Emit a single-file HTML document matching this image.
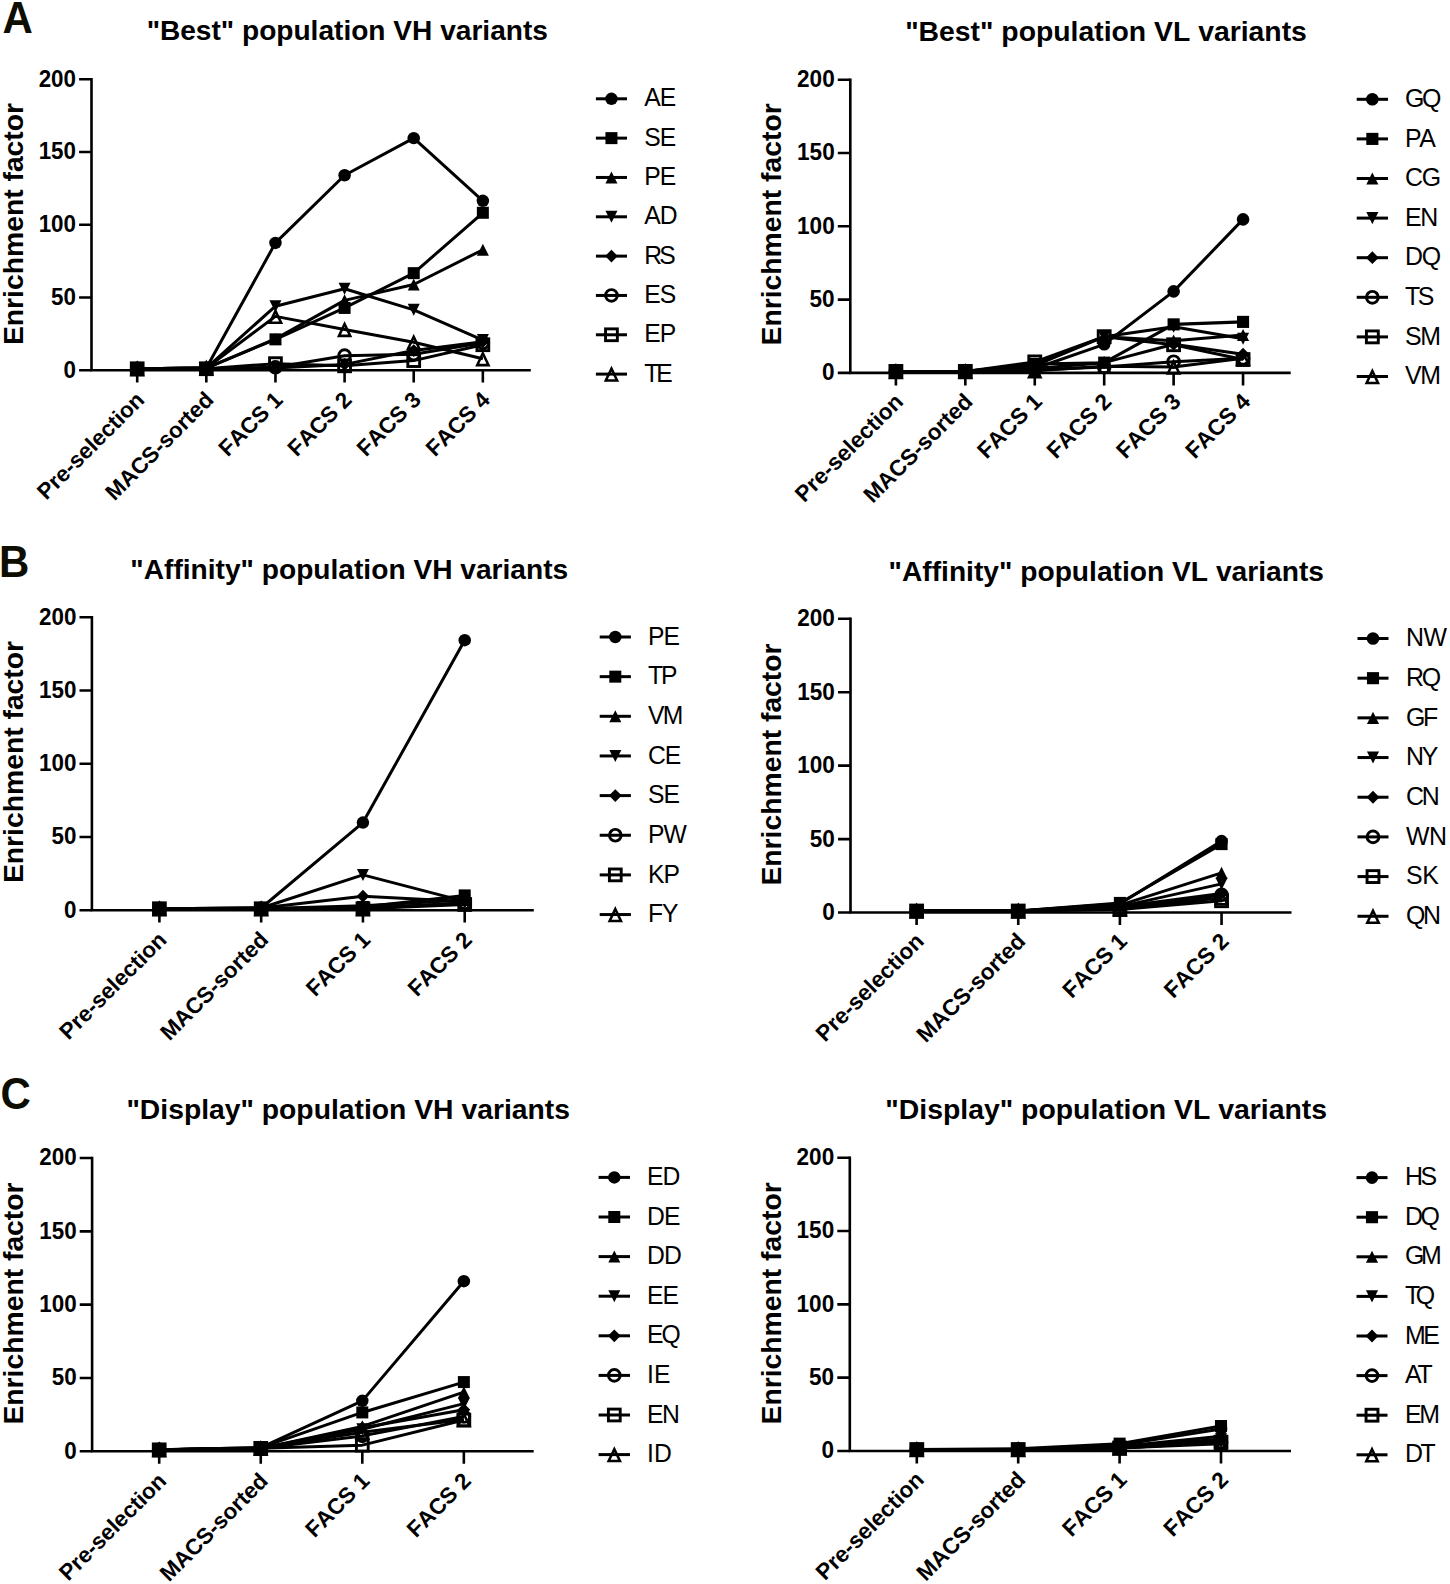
<!DOCTYPE html>
<html lang="en">
<head>
<meta charset="utf-8">
<title>Enrichment factor of VH and VL variants</title>
<style>
html,body{margin:0;padding:0;background:#fff;}
body{width:1450px;height:1584px;overflow:hidden;}
svg{display:block;}
svg text{font-kerning:none;}
</style>
</head>
<body>
<svg width="1450" height="1584" viewBox="0 0 1450 1584" font-family='"Liberation Sans", Arial, Helvetica, sans-serif' fill="#000">
<rect width="1450" height="1584" fill="#fff"/>
<text transform="translate(2.4 32.9) scale(1 1.04)" font-size="42" font-weight="700" fill="#0d0d02">A</text>
<text transform="translate(-1 576.5) scale(1 1.04)" font-size="42" font-weight="700" fill="#0d0d02">B</text>
<text transform="translate(0.6 1109.2) scale(1 1.04)" font-size="42" font-weight="700" fill="#0d0d02">C</text>
<g>
<text x="347.3" y="40.4" text-anchor="middle" font-size="28.1" font-weight="700">&quot;Best&quot; population VH variants</text>
<text transform="translate(23.2 224) rotate(-90)" text-anchor="middle" font-size="28.3" font-weight="700">Enrichment factor</text>
<g stroke="#000" stroke-width="2.6" fill="none">
<path d="M91.5 77.9V370.2H530.8"/>
<path d="M79.1 370.2H91.5M79.1 297.45H91.5M79.1 224.7H91.5M79.1 151.95H91.5M79.1 79.2H91.5M137.2 370.2V382.6M206.33 370.2V382.6M275.46 370.2V382.6M344.59 370.2V382.6M413.72 370.2V382.6M482.85 370.2V382.6"/>
</g>
<g font-size="22.4" font-weight="700" text-anchor="end">
<text transform="translate(76 377.6) scale(1 1.04)">0</text>
<text transform="translate(76 304.85) scale(1 1.04)">50</text>
<text transform="translate(76 232.1) scale(1 1.04)">100</text>
<text transform="translate(76 159.35) scale(1 1.04)">150</text>
<text transform="translate(76 86.6) scale(1 1.04)">200</text>
</g>
<g font-size="22.4" font-weight="700" text-anchor="end">
<text transform="translate(145.7 401.2) rotate(-45)">Pre-selection</text>
<text transform="translate(214.83 401.2) rotate(-45)">MACS-sorted</text>
<text transform="translate(283.96 401.2) rotate(-45)">FACS 1</text>
<text transform="translate(353.09 401.2) rotate(-45)">FACS 2</text>
<text transform="translate(422.22 401.2) rotate(-45)">FACS 3</text>
<text transform="translate(491.35 401.2) rotate(-45)">FACS 4</text>
</g>
<polyline points="137.2,368.75 206.33,368.02 275.46,242.89 344.59,175.23 413.72,138.13 482.85,200.84" fill="none" stroke="#000" stroke-width="3" stroke-linejoin="round"/>
<circle cx="137.2" cy="368.75" r="6.24" fill="#000"/>
<circle cx="206.33" cy="368.02" r="6.24" fill="#000"/>
<circle cx="275.46" cy="242.89" r="6.24" fill="#000"/>
<circle cx="344.59" cy="175.23" r="6.24" fill="#000"/>
<circle cx="413.72" cy="138.13" r="6.24" fill="#000"/>
<circle cx="482.85" cy="200.84" r="6.24" fill="#000"/>
<polyline points="137.2,368.75 206.33,368.02 275.46,339.35 344.59,307.93 413.72,273.15 482.85,212.77" fill="none" stroke="#000" stroke-width="3" stroke-linejoin="round"/>
<rect x="131.2" y="362.75" width="12" height="12" fill="#000"/>
<rect x="200.33" y="362.02" width="12" height="12" fill="#000"/>
<rect x="269.46" y="333.35" width="12" height="12" fill="#000"/>
<rect x="338.59" y="301.93" width="12" height="12" fill="#000"/>
<rect x="407.72" y="267.15" width="12" height="12" fill="#000"/>
<rect x="476.85" y="206.77" width="12" height="12" fill="#000"/>
<polyline points="137.2,368.75 206.33,368.02 275.46,338.92 344.59,300.36 413.72,284.5 482.85,249.73" fill="none" stroke="#000" stroke-width="3" stroke-linejoin="round"/>
<polygon points="137.2,362.75 143.2,374.75 131.2,374.75" fill="#000"/>
<polygon points="206.33,362.02 212.33,374.02 200.33,374.02" fill="#000"/>
<polygon points="275.46,332.92 281.46,344.92 269.46,344.92" fill="#000"/>
<polygon points="344.59,294.36 350.59,306.36 338.59,306.36" fill="#000"/>
<polygon points="413.72,278.5 419.72,290.5 407.72,290.5" fill="#000"/>
<polygon points="482.85,243.73 488.85,255.73 476.85,255.73" fill="#000"/>
<polyline points="137.2,368.75 206.33,368.02 275.46,306.18 344.59,288.72 413.72,309.82 482.85,340.08" fill="none" stroke="#000" stroke-width="3" stroke-linejoin="round"/>
<polygon points="131.2,362.75 143.2,362.75 137.2,374.75" fill="#000"/>
<polygon points="200.33,362.02 212.33,362.02 206.33,374.02" fill="#000"/>
<polygon points="269.46,300.18 281.46,300.18 275.46,312.18" fill="#000"/>
<polygon points="338.59,282.72 350.59,282.72 344.59,294.72" fill="#000"/>
<polygon points="407.72,303.82 419.72,303.82 413.72,315.82" fill="#000"/>
<polygon points="476.85,334.08 488.85,334.08 482.85,346.08" fill="#000"/>
<polyline points="137.2,368.75 206.33,368.75 275.46,368.02 344.59,364.38 413.72,350.56 482.85,341.68" fill="none" stroke="#000" stroke-width="3" stroke-linejoin="round"/>
<polygon points="137.2,362.38 143.56,368.75 137.2,375.11 130.84,368.75" fill="#000"/>
<polygon points="206.33,362.38 212.69,368.75 206.33,375.11 199.97,368.75" fill="#000"/>
<polygon points="275.46,361.66 281.82,368.02 275.46,374.38 269.1,368.02" fill="#000"/>
<polygon points="344.59,358.02 350.95,364.38 344.59,370.74 338.23,364.38" fill="#000"/>
<polygon points="413.72,344.2 420.08,350.56 413.72,356.92 407.36,350.56" fill="#000"/>
<polygon points="482.85,335.32 489.21,341.68 482.85,348.04 476.49,341.68" fill="#000"/>
<polyline points="137.2,368.75 206.33,368.75 275.46,367.29 344.59,355.65 413.72,354.19 482.85,342.85" fill="none" stroke="#000" stroke-width="3" stroke-linejoin="round"/>
<circle cx="137.2" cy="368.75" r="5.85" fill="none" stroke="#000" stroke-width="2.9"/>
<circle cx="206.33" cy="368.75" r="5.85" fill="none" stroke="#000" stroke-width="2.9"/>
<circle cx="275.46" cy="367.29" r="5.85" fill="none" stroke="#000" stroke-width="2.9"/>
<circle cx="344.59" cy="355.65" r="5.85" fill="none" stroke="#000" stroke-width="2.9"/>
<circle cx="413.72" cy="354.19" r="5.85" fill="none" stroke="#000" stroke-width="2.9"/>
<circle cx="482.85" cy="342.85" r="5.85" fill="none" stroke="#000" stroke-width="2.9"/>
<polyline points="137.2,368.75 206.33,368.75 275.46,363.65 344.59,365.83 413.72,360.6 482.85,344.74" fill="none" stroke="#000" stroke-width="3" stroke-linejoin="round"/>
<rect x="131.3" y="362.85" width="11.8" height="11.8" fill="none" stroke="#000" stroke-width="2.9"/>
<rect x="200.43" y="362.85" width="11.8" height="11.8" fill="none" stroke="#000" stroke-width="2.9"/>
<rect x="269.56" y="357.75" width="11.8" height="11.8" fill="none" stroke="#000" stroke-width="2.9"/>
<rect x="338.69" y="359.94" width="11.8" height="11.8" fill="none" stroke="#000" stroke-width="2.9"/>
<rect x="407.82" y="354.7" width="11.8" height="11.8" fill="none" stroke="#000" stroke-width="2.9"/>
<rect x="476.95" y="338.84" width="11.8" height="11.8" fill="none" stroke="#000" stroke-width="2.9"/>
<polyline points="137.2,368.75 206.33,368.02 275.46,316.37 344.59,329.46 413.72,342.26 482.85,358.71" fill="none" stroke="#000" stroke-width="3" stroke-linejoin="round"/>
<polygon points="137.2,363.25 142.85,375.14 131.55,375.14" fill="none" stroke="#000" stroke-width="2.55" stroke-linejoin="miter"/>
<polygon points="206.33,362.52 211.98,374.42 200.68,374.42" fill="none" stroke="#000" stroke-width="2.55" stroke-linejoin="miter"/>
<polygon points="275.46,310.87 281.11,322.76 269.81,322.76" fill="none" stroke="#000" stroke-width="2.55" stroke-linejoin="miter"/>
<polygon points="344.59,323.96 350.24,335.86 338.94,335.86" fill="none" stroke="#000" stroke-width="2.55" stroke-linejoin="miter"/>
<polygon points="413.72,336.76 419.37,348.66 408.07,348.66" fill="none" stroke="#000" stroke-width="2.55" stroke-linejoin="miter"/>
<polygon points="482.85,353.21 488.5,365.11 477.2,365.11" fill="none" stroke="#000" stroke-width="2.55" stroke-linejoin="miter"/>
<g font-size="24.7" letter-spacing="-1">
<path d="M595.9 98.8H627" stroke="#000" stroke-width="3"/>
<circle cx="611.45" cy="98.8" r="6.24" fill="#000"/>
<text transform="translate(644.3 106.4) scale(1 1.04)">AE</text>
<path d="M595.9 138.13H627" stroke="#000" stroke-width="3"/>
<rect x="605.45" y="132.13" width="12" height="12" fill="#000"/>
<text transform="translate(644.3 145.73) scale(1 1.04)">SE</text>
<path d="M595.9 177.46H627" stroke="#000" stroke-width="3"/>
<polygon points="611.45,171.46 617.45,183.46 605.45,183.46" fill="#000"/>
<text transform="translate(644.3 185.06) scale(1 1.04)">PE</text>
<path d="M595.9 216.79H627" stroke="#000" stroke-width="3"/>
<polygon points="605.45,210.79 617.45,210.79 611.45,222.79" fill="#000"/>
<text transform="translate(644.3 224.39) scale(1 1.04)">AD</text>
<path d="M595.9 256.12H627" stroke="#000" stroke-width="3"/>
<polygon points="611.45,249.76 617.81,256.12 611.45,262.48 605.09,256.12" fill="#000"/>
<text transform="translate(644.3 263.72) scale(1 1.04)" letter-spacing="-2.8">RS</text>
<path d="M595.9 295.45H627" stroke="#000" stroke-width="3"/>
<circle cx="611.45" cy="295.45" r="5.85" fill="none" stroke="#000" stroke-width="2.9"/>
<text transform="translate(644.3 303.05) scale(1 1.04)">ES</text>
<path d="M595.9 334.78H627" stroke="#000" stroke-width="3"/>
<rect x="605.55" y="328.88" width="11.8" height="11.8" fill="none" stroke="#000" stroke-width="2.9"/>
<text transform="translate(644.3 342.38) scale(1 1.04)">EP</text>
<path d="M595.9 374.11H627" stroke="#000" stroke-width="3"/>
<polygon points="611.45,368.61 617.1,380.51 605.8,380.51" fill="none" stroke="#000" stroke-width="2.55" stroke-linejoin="miter"/>
<text transform="translate(644.3 381.71) scale(1 1.04)" letter-spacing="-3.2">TE</text>
</g>
</g>
<g>
<text x="1106" y="41" text-anchor="middle" font-size="28.35" font-weight="700">&quot;Best&quot; population VL variants</text>
<text transform="translate(780.8 224.4) rotate(-90)" text-anchor="middle" font-size="28.3" font-weight="700">Enrichment factor</text>
<g stroke="#000" stroke-width="2.62" fill="none">
<path d="M850.3 78.39V372.9H1290.7"/>
<path d="M837.8 372.9H850.3M837.8 299.6H850.3M837.8 226.3H850.3M837.8 153H850.3M837.8 79.7H850.3M895.9 372.9V385.4M965.33 372.9V385.4M1034.76 372.9V385.4M1104.19 372.9V385.4M1173.62 372.9V385.4M1243.05 372.9V385.4"/>
</g>
<g font-size="22.58" font-weight="700" text-anchor="end">
<text transform="translate(834.68 380.36) scale(1 1.04)">0</text>
<text transform="translate(834.68 307.06) scale(1 1.04)">50</text>
<text transform="translate(834.68 233.76) scale(1 1.04)">100</text>
<text transform="translate(834.68 160.46) scale(1 1.04)">150</text>
<text transform="translate(834.68 87.16) scale(1 1.04)">200</text>
</g>
<g font-size="22.58" font-weight="700" text-anchor="end">
<text transform="translate(904.47 402.9) rotate(-45)">Pre-selection</text>
<text transform="translate(973.9 402.9) rotate(-45)">MACS-sorted</text>
<text transform="translate(1043.33 402.9) rotate(-45)">FACS 1</text>
<text transform="translate(1112.76 402.9) rotate(-45)">FACS 2</text>
<text transform="translate(1182.19 402.9) rotate(-45)">FACS 3</text>
<text transform="translate(1251.62 402.9) rotate(-45)">FACS 4</text>
</g>
<polyline points="895.9,371.43 965.33,371.43 1034.76,368.5 1104.19,344.31 1173.62,291.39 1243.05,219.41" fill="none" stroke="#000" stroke-width="3.02" stroke-linejoin="round"/>
<circle cx="895.9" cy="371.43" r="6.29" fill="#000"/>
<circle cx="965.33" cy="371.43" r="6.29" fill="#000"/>
<circle cx="1034.76" cy="368.5" r="6.29" fill="#000"/>
<circle cx="1104.19" cy="344.31" r="6.29" fill="#000"/>
<circle cx="1173.62" cy="291.39" r="6.29" fill="#000"/>
<circle cx="1243.05" cy="219.41" r="6.29" fill="#000"/>
<polyline points="895.9,371.43 965.33,371.43 1034.76,364.1 1104.19,362.64 1173.62,324.38 1243.05,321.88" fill="none" stroke="#000" stroke-width="3.02" stroke-linejoin="round"/>
<rect x="889.85" y="365.39" width="12.1" height="12.1" fill="#000"/>
<rect x="959.28" y="365.39" width="12.1" height="12.1" fill="#000"/>
<rect x="1028.71" y="358.06" width="12.1" height="12.1" fill="#000"/>
<rect x="1098.14" y="356.59" width="12.1" height="12.1" fill="#000"/>
<rect x="1167.57" y="318.33" width="12.1" height="12.1" fill="#000"/>
<rect x="1237" y="315.84" width="12.1" height="12.1" fill="#000"/>
<polyline points="895.9,371.43 965.33,371.43 1034.76,365.57 1104.19,336.69 1173.62,340.65 1243.05,334.93" fill="none" stroke="#000" stroke-width="3.02" stroke-linejoin="round"/>
<polygon points="895.9,365.39 901.95,377.48 889.85,377.48" fill="#000"/>
<polygon points="965.33,365.39 971.38,377.48 959.28,377.48" fill="#000"/>
<polygon points="1034.76,359.52 1040.81,371.62 1028.71,371.62" fill="#000"/>
<polygon points="1104.19,330.64 1110.24,342.74 1098.14,342.74" fill="#000"/>
<polygon points="1173.62,334.6 1179.67,346.7 1167.57,346.7" fill="#000"/>
<polygon points="1243.05,328.88 1249.1,340.98 1237,340.98" fill="#000"/>
<polyline points="895.9,371.43 965.33,371.43 1034.76,364.1 1104.19,336.69 1173.62,326.72 1243.05,338.74" fill="none" stroke="#000" stroke-width="3.02" stroke-linejoin="round"/>
<polygon points="889.85,365.39 901.95,365.39 895.9,377.48" fill="#000"/>
<polygon points="959.28,365.39 971.38,365.39 965.33,377.48" fill="#000"/>
<polygon points="1028.71,358.06 1040.81,358.06 1034.76,370.15" fill="#000"/>
<polygon points="1098.14,330.64 1110.24,330.64 1104.19,342.74" fill="#000"/>
<polygon points="1167.57,320.67 1179.67,320.67 1173.62,332.77" fill="#000"/>
<polygon points="1237,332.69 1249.1,332.69 1243.05,344.79" fill="#000"/>
<polyline points="895.9,371.43 965.33,371.43 1034.76,368.5 1104.19,362.64 1173.62,344.31 1243.05,354.14" fill="none" stroke="#000" stroke-width="3.02" stroke-linejoin="round"/>
<polygon points="895.9,365.02 902.31,371.43 895.9,377.84 889.49,371.43" fill="#000"/>
<polygon points="965.33,365.02 971.74,371.43 965.33,377.84 958.92,371.43" fill="#000"/>
<polygon points="1034.76,362.09 1041.17,368.5 1034.76,374.91 1028.35,368.5" fill="#000"/>
<polygon points="1104.19,356.23 1110.6,362.64 1104.19,369.05 1097.78,362.64" fill="#000"/>
<polygon points="1173.62,337.9 1180.03,344.31 1173.62,350.72 1167.21,344.31" fill="#000"/>
<polygon points="1243.05,347.72 1249.46,354.14 1243.05,360.55 1236.64,354.14" fill="#000"/>
<polyline points="895.9,371.43 965.33,371.43 1034.76,369.97 1104.19,367.04 1173.62,361.76 1243.05,358.24" fill="none" stroke="#000" stroke-width="3.02" stroke-linejoin="round"/>
<circle cx="895.9" cy="371.43" r="5.9" fill="none" stroke="#000" stroke-width="2.92"/>
<circle cx="965.33" cy="371.43" r="5.9" fill="none" stroke="#000" stroke-width="2.92"/>
<circle cx="1034.76" cy="369.97" r="5.9" fill="none" stroke="#000" stroke-width="2.92"/>
<circle cx="1104.19" cy="367.04" r="5.9" fill="none" stroke="#000" stroke-width="2.92"/>
<circle cx="1173.62" cy="361.76" r="5.9" fill="none" stroke="#000" stroke-width="2.92"/>
<circle cx="1243.05" cy="358.24" r="5.9" fill="none" stroke="#000" stroke-width="2.92"/>
<polyline points="895.9,371.43 965.33,371.43 1034.76,361.9 1104.19,336.69 1173.62,344.75 1243.05,359.56" fill="none" stroke="#000" stroke-width="3.02" stroke-linejoin="round"/>
<rect x="889.95" y="365.49" width="11.89" height="11.89" fill="none" stroke="#000" stroke-width="2.92"/>
<rect x="959.38" y="365.49" width="11.89" height="11.89" fill="none" stroke="#000" stroke-width="2.92"/>
<rect x="1028.81" y="355.96" width="11.89" height="11.89" fill="none" stroke="#000" stroke-width="2.92"/>
<rect x="1098.24" y="330.74" width="11.89" height="11.89" fill="none" stroke="#000" stroke-width="2.92"/>
<rect x="1167.67" y="338.81" width="11.89" height="11.89" fill="none" stroke="#000" stroke-width="2.92"/>
<rect x="1237.1" y="353.61" width="11.89" height="11.89" fill="none" stroke="#000" stroke-width="2.92"/>
<polyline points="895.9,371.43 965.33,371.43 1034.76,370.7 1104.19,366.3 1173.62,367.04 1243.05,358.24" fill="none" stroke="#000" stroke-width="3.02" stroke-linejoin="round"/>
<polygon points="895.9,365.89 901.6,377.89 890.2,377.89" fill="none" stroke="#000" stroke-width="2.57" stroke-linejoin="miter"/>
<polygon points="965.33,365.89 971.03,377.89 959.63,377.89" fill="none" stroke="#000" stroke-width="2.57" stroke-linejoin="miter"/>
<polygon points="1034.76,365.16 1040.46,377.15 1029.06,377.15" fill="none" stroke="#000" stroke-width="2.57" stroke-linejoin="miter"/>
<polygon points="1104.19,360.76 1109.89,372.75 1098.49,372.75" fill="none" stroke="#000" stroke-width="2.57" stroke-linejoin="miter"/>
<polygon points="1173.62,361.49 1179.32,373.49 1167.92,373.49" fill="none" stroke="#000" stroke-width="2.57" stroke-linejoin="miter"/>
<polygon points="1243.05,352.7 1248.75,364.69 1237.35,364.69" fill="none" stroke="#000" stroke-width="2.57" stroke-linejoin="miter"/>
<g font-size="24.9" letter-spacing="-1.3">
<path d="M1356.7 99.3H1388" stroke="#000" stroke-width="3.02"/>
<circle cx="1372.35" cy="99.3" r="6.29" fill="#000"/>
<text transform="translate(1405 106.96) scale(1 1.04)" letter-spacing="-2.4">GQ</text>
<path d="M1356.7 138.9H1388" stroke="#000" stroke-width="3.02"/>
<rect x="1366.3" y="132.85" width="12.1" height="12.1" fill="#000"/>
<text transform="translate(1405 146.56) scale(1 1.04)" letter-spacing="-2.4">PA</text>
<path d="M1356.7 178.5H1388" stroke="#000" stroke-width="3.02"/>
<polygon points="1372.35,172.45 1378.4,184.55 1366.3,184.55" fill="#000"/>
<text transform="translate(1405 186.16) scale(1 1.04)">CG</text>
<path d="M1356.7 218.1H1388" stroke="#000" stroke-width="3.02"/>
<polygon points="1366.3,212.05 1378.4,212.05 1372.35,224.15" fill="#000"/>
<text transform="translate(1405 225.76) scale(1 1.04)">EN</text>
<path d="M1356.7 257.7H1388" stroke="#000" stroke-width="3.02"/>
<polygon points="1372.35,251.29 1378.76,257.7 1372.35,264.11 1365.94,257.7" fill="#000"/>
<text transform="translate(1405 265.36) scale(1 1.04)">DQ</text>
<path d="M1356.7 297.3H1388" stroke="#000" stroke-width="3.02"/>
<circle cx="1372.35" cy="297.3" r="5.9" fill="none" stroke="#000" stroke-width="2.92"/>
<text transform="translate(1405 304.96) scale(1 1.04)" letter-spacing="-2.4">TS</text>
<path d="M1356.7 336.9H1388" stroke="#000" stroke-width="3.02"/>
<rect x="1366.4" y="330.95" width="11.89" height="11.89" fill="none" stroke="#000" stroke-width="2.92"/>
<text transform="translate(1405 344.56) scale(1 1.04)">SM</text>
<path d="M1356.7 376.5H1388" stroke="#000" stroke-width="3.02"/>
<polygon points="1372.35,370.96 1378.05,382.95 1366.65,382.95" fill="none" stroke="#000" stroke-width="2.57" stroke-linejoin="miter"/>
<text transform="translate(1405 384.16) scale(1 1.04)">VM</text>
</g>
</g>
<g>
<text x="349.3" y="578.8" text-anchor="middle" font-size="28.15" font-weight="700">&quot;Affinity&quot; population VH variants</text>
<text transform="translate(23.2 762) rotate(-90)" text-anchor="middle" font-size="28.3" font-weight="700">Enrichment factor</text>
<g stroke="#000" stroke-width="2.6" fill="none">
<path d="M91.9 615.9V910.2H533.8"/>
<path d="M79.5 910.2H91.9M79.5 836.95H91.9M79.5 763.7H91.9M79.5 690.45H91.9M79.5 617.2H91.9M159.4 910.2V922.6M261.17 910.2V922.6M362.94 910.2V922.6M464.71 910.2V922.6"/>
</g>
<g font-size="22.4" font-weight="700" text-anchor="end">
<text transform="translate(76.4 917.6) scale(1 1.04)">0</text>
<text transform="translate(76.4 844.35) scale(1 1.04)">50</text>
<text transform="translate(76.4 771.1) scale(1 1.04)">100</text>
<text transform="translate(76.4 697.85) scale(1 1.04)">150</text>
<text transform="translate(76.4 624.6) scale(1 1.04)">200</text>
</g>
<g font-size="22.4" font-weight="700" text-anchor="end">
<text transform="translate(167.9 941.2) rotate(-45)">Pre-selection</text>
<text transform="translate(269.67 941.2) rotate(-45)">MACS-sorted</text>
<text transform="translate(371.44 941.2) rotate(-45)">FACS 1</text>
<text transform="translate(473.21 941.2) rotate(-45)">FACS 2</text>
</g>
<polyline points="159.4,908.74 261.17,908 362.94,822.59 464.71,640.2" fill="none" stroke="#000" stroke-width="3" stroke-linejoin="round"/>
<circle cx="159.4" cy="908.74" r="6.24" fill="#000"/>
<circle cx="261.17" cy="908" r="6.24" fill="#000"/>
<circle cx="362.94" cy="822.59" r="6.24" fill="#000"/>
<circle cx="464.71" cy="640.2" r="6.24" fill="#000"/>
<polyline points="159.4,908.74 261.17,908.74 362.94,906.98 464.71,895.4" fill="none" stroke="#000" stroke-width="3" stroke-linejoin="round"/>
<rect x="153.4" y="902.74" width="12" height="12" fill="#000"/>
<rect x="255.17" y="902.74" width="12" height="12" fill="#000"/>
<rect x="356.94" y="900.98" width="12" height="12" fill="#000"/>
<rect x="458.71" y="889.4" width="12" height="12" fill="#000"/>
<polyline points="159.4,908.74 261.17,908.74 362.94,905.81 464.71,899.95" fill="none" stroke="#000" stroke-width="3" stroke-linejoin="round"/>
<polygon points="159.4,902.74 165.4,914.74 153.4,914.74" fill="#000"/>
<polygon points="261.17,902.74 267.17,914.74 255.17,914.74" fill="#000"/>
<polygon points="362.94,899.81 368.94,911.81 356.94,911.81" fill="#000"/>
<polygon points="464.71,893.95 470.71,905.95 458.71,905.95" fill="#000"/>
<polyline points="159.4,908.74 261.17,908 362.94,874.89 464.71,901.41" fill="none" stroke="#000" stroke-width="3" stroke-linejoin="round"/>
<polygon points="153.4,902.74 165.4,902.74 159.4,914.74" fill="#000"/>
<polygon points="255.17,902 267.17,902 261.17,914" fill="#000"/>
<polygon points="356.94,868.89 368.94,868.89 362.94,880.89" fill="#000"/>
<polygon points="458.71,895.41 470.71,895.41 464.71,907.41" fill="#000"/>
<polyline points="159.4,908.74 261.17,908 362.94,896.14 464.71,901.41" fill="none" stroke="#000" stroke-width="3" stroke-linejoin="round"/>
<polygon points="159.4,902.38 165.76,908.74 159.4,915.1 153.04,908.74" fill="#000"/>
<polygon points="261.17,901.64 267.53,908 261.17,914.36 254.81,908" fill="#000"/>
<polygon points="362.94,889.78 369.3,896.14 362.94,902.5 356.58,896.14" fill="#000"/>
<polygon points="464.71,895.05 471.07,901.41 464.71,907.77 458.35,901.41" fill="#000"/>
<polyline points="159.4,908.74 261.17,908.74 362.94,908 464.71,902.88" fill="none" stroke="#000" stroke-width="3" stroke-linejoin="round"/>
<circle cx="159.4" cy="908.74" r="5.85" fill="none" stroke="#000" stroke-width="2.9"/>
<circle cx="261.17" cy="908.74" r="5.85" fill="none" stroke="#000" stroke-width="2.9"/>
<circle cx="362.94" cy="908" r="5.85" fill="none" stroke="#000" stroke-width="2.9"/>
<circle cx="464.71" cy="902.88" r="5.85" fill="none" stroke="#000" stroke-width="2.9"/>
<polyline points="159.4,908.74 261.17,908.74 362.94,908.74 464.71,904.49" fill="none" stroke="#000" stroke-width="3" stroke-linejoin="round"/>
<rect x="153.5" y="902.84" width="11.8" height="11.8" fill="none" stroke="#000" stroke-width="2.9"/>
<rect x="255.27" y="902.84" width="11.8" height="11.8" fill="none" stroke="#000" stroke-width="2.9"/>
<rect x="357.04" y="902.84" width="11.8" height="11.8" fill="none" stroke="#000" stroke-width="2.9"/>
<rect x="458.81" y="898.59" width="11.8" height="11.8" fill="none" stroke="#000" stroke-width="2.9"/>
<polyline points="159.4,908.74 261.17,908.74 362.94,908.74 464.71,902.88" fill="none" stroke="#000" stroke-width="3" stroke-linejoin="round"/>
<polygon points="159.4,903.24 165.05,915.13 153.75,915.13" fill="none" stroke="#000" stroke-width="2.55" stroke-linejoin="miter"/>
<polygon points="261.17,903.24 266.82,915.13 255.52,915.13" fill="none" stroke="#000" stroke-width="2.55" stroke-linejoin="miter"/>
<polygon points="362.94,903.24 368.59,915.13 357.29,915.13" fill="none" stroke="#000" stroke-width="2.55" stroke-linejoin="miter"/>
<polygon points="464.71,897.38 470.36,909.27 459.06,909.27" fill="none" stroke="#000" stroke-width="2.55" stroke-linejoin="miter"/>
<g font-size="24.7" letter-spacing="-1">
<path d="M599.7 637H630.9" stroke="#000" stroke-width="3"/>
<circle cx="615.3" cy="637" r="6.24" fill="#000"/>
<text transform="translate(648 644.6) scale(1 1.04)">PE</text>
<path d="M599.7 676.65H630.9" stroke="#000" stroke-width="3"/>
<rect x="609.3" y="670.65" width="12" height="12" fill="#000"/>
<text transform="translate(648 684.25) scale(1 1.04)" letter-spacing="-2">TP</text>
<path d="M599.7 716.3H630.9" stroke="#000" stroke-width="3"/>
<polygon points="615.3,710.3 621.3,722.3 609.3,722.3" fill="#000"/>
<text transform="translate(648 723.9) scale(1 1.04)" letter-spacing="-1.6">VM</text>
<path d="M599.7 755.95H630.9" stroke="#000" stroke-width="3"/>
<polygon points="609.3,749.95 621.3,749.95 615.3,761.95" fill="#000"/>
<text transform="translate(648 763.55) scale(1 1.04)">CE</text>
<path d="M599.7 795.6H630.9" stroke="#000" stroke-width="3"/>
<polygon points="615.3,789.24 621.66,795.6 615.3,801.96 608.94,795.6" fill="#000"/>
<text transform="translate(648 803.2) scale(1 1.04)">SE</text>
<path d="M599.7 835.25H630.9" stroke="#000" stroke-width="3"/>
<circle cx="615.3" cy="835.25" r="5.85" fill="none" stroke="#000" stroke-width="2.9"/>
<text transform="translate(648 842.85) scale(1 1.04)">PW</text>
<path d="M599.7 874.9H630.9" stroke="#000" stroke-width="3"/>
<rect x="609.4" y="869" width="11.8" height="11.8" fill="none" stroke="#000" stroke-width="2.9"/>
<text transform="translate(648 882.5) scale(1 1.04)">KP</text>
<path d="M599.7 914.55H630.9" stroke="#000" stroke-width="3"/>
<polygon points="615.3,909.05 620.95,920.95 609.65,920.95" fill="none" stroke="#000" stroke-width="2.55" stroke-linejoin="miter"/>
<text transform="translate(648 922.15) scale(1 1.04)">FY</text>
</g>
</g>
<g>
<text x="1106.3" y="580.5" text-anchor="middle" font-size="28.2" font-weight="700">&quot;Affinity&quot; population VL variants</text>
<text transform="translate(780.8 764.5) rotate(-90)" text-anchor="middle" font-size="28.3" font-weight="700">Enrichment factor</text>
<g stroke="#000" stroke-width="2.62" fill="none">
<path d="M850.5 617.49V912.5H1291.5"/>
<path d="M838 912.5H850.5M838 839.08H850.5M838 765.65H850.5M838 692.22H850.5M838 618.8H850.5M916.6 912.5V925M1018.25 912.5V925M1119.9 912.5V925M1221.55 912.5V925"/>
</g>
<g font-size="22.58" font-weight="700" text-anchor="end">
<text transform="translate(834.88 919.96) scale(1 1.04)">0</text>
<text transform="translate(834.88 846.53) scale(1 1.04)">50</text>
<text transform="translate(834.88 773.11) scale(1 1.04)">100</text>
<text transform="translate(834.88 699.68) scale(1 1.04)">150</text>
<text transform="translate(834.88 626.26) scale(1 1.04)">200</text>
</g>
<g font-size="22.58" font-weight="700" text-anchor="end">
<text transform="translate(925.17 942.5) rotate(-45)">Pre-selection</text>
<text transform="translate(1026.82 942.5) rotate(-45)">MACS-sorted</text>
<text transform="translate(1128.47 942.5) rotate(-45)">FACS 1</text>
<text transform="translate(1230.12 942.5) rotate(-45)">FACS 2</text>
</g>
<polyline points="916.6,911.03 1018.25,911.03 1119.9,903.69 1221.55,841.13" fill="none" stroke="#000" stroke-width="3.02" stroke-linejoin="round"/>
<circle cx="916.6" cy="911.03" r="6.29" fill="#000"/>
<circle cx="1018.25" cy="911.03" r="6.29" fill="#000"/>
<circle cx="1119.9" cy="903.69" r="6.29" fill="#000"/>
<circle cx="1221.55" cy="841.13" r="6.29" fill="#000"/>
<polyline points="916.6,911.03 1018.25,911.03 1119.9,902.95 1221.55,844.07" fill="none" stroke="#000" stroke-width="3.02" stroke-linejoin="round"/>
<rect x="910.55" y="904.98" width="12.1" height="12.1" fill="#000"/>
<rect x="1012.2" y="904.98" width="12.1" height="12.1" fill="#000"/>
<rect x="1113.85" y="896.91" width="12.1" height="12.1" fill="#000"/>
<rect x="1215.5" y="838.02" width="12.1" height="12.1" fill="#000"/>
<polyline points="916.6,911.03 1018.25,911.03 1119.9,905.16 1221.55,872.85" fill="none" stroke="#000" stroke-width="3.02" stroke-linejoin="round"/>
<polygon points="916.6,904.98 922.65,917.08 910.55,917.08" fill="#000"/>
<polygon points="1018.25,904.98 1024.3,917.08 1012.2,917.08" fill="#000"/>
<polygon points="1119.9,899.11 1125.95,911.21 1113.85,911.21" fill="#000"/>
<polygon points="1221.55,866.8 1227.6,878.9 1215.5,878.9" fill="#000"/>
<polyline points="916.6,911.03 1018.25,911.03 1119.9,906.63 1221.55,883.86" fill="none" stroke="#000" stroke-width="3.02" stroke-linejoin="round"/>
<polygon points="910.55,904.98 922.65,904.98 916.6,917.08" fill="#000"/>
<polygon points="1012.2,904.98 1024.3,904.98 1018.25,917.08" fill="#000"/>
<polygon points="1113.85,900.58 1125.95,900.58 1119.9,912.67" fill="#000"/>
<polygon points="1215.5,877.82 1227.6,877.82 1221.55,889.91" fill="#000"/>
<polyline points="916.6,911.03 1018.25,911.03 1119.9,906.63 1221.55,893.41" fill="none" stroke="#000" stroke-width="3.02" stroke-linejoin="round"/>
<polygon points="916.6,904.62 923.01,911.03 916.6,917.44 910.19,911.03" fill="#000"/>
<polygon points="1018.25,904.62 1024.66,911.03 1018.25,917.44 1011.84,911.03" fill="#000"/>
<polygon points="1119.9,900.22 1126.31,906.63 1119.9,913.04 1113.49,906.63" fill="#000"/>
<polygon points="1221.55,887 1227.96,893.41 1221.55,899.82 1215.14,893.41" fill="#000"/>
<polyline points="916.6,911.03 1018.25,911.03 1119.9,908.09 1221.55,894.88" fill="none" stroke="#000" stroke-width="3.02" stroke-linejoin="round"/>
<circle cx="916.6" cy="911.03" r="5.9" fill="none" stroke="#000" stroke-width="2.92"/>
<circle cx="1018.25" cy="911.03" r="5.9" fill="none" stroke="#000" stroke-width="2.92"/>
<circle cx="1119.9" cy="908.09" r="5.9" fill="none" stroke="#000" stroke-width="2.92"/>
<circle cx="1221.55" cy="894.88" r="5.9" fill="none" stroke="#000" stroke-width="2.92"/>
<polyline points="916.6,911.03 1018.25,911.03 1119.9,909.56 1221.55,900.75" fill="none" stroke="#000" stroke-width="3.02" stroke-linejoin="round"/>
<rect x="910.65" y="905.08" width="11.89" height="11.89" fill="none" stroke="#000" stroke-width="2.92"/>
<rect x="1012.3" y="905.08" width="11.89" height="11.89" fill="none" stroke="#000" stroke-width="2.92"/>
<rect x="1113.95" y="903.62" width="11.89" height="11.89" fill="none" stroke="#000" stroke-width="2.92"/>
<rect x="1215.6" y="894.8" width="11.89" height="11.89" fill="none" stroke="#000" stroke-width="2.92"/>
<polyline points="916.6,911.03 1018.25,911.03 1119.9,908.83 1221.55,897.82" fill="none" stroke="#000" stroke-width="3.02" stroke-linejoin="round"/>
<polygon points="916.6,905.49 922.3,917.48 910.9,917.48" fill="none" stroke="#000" stroke-width="2.57" stroke-linejoin="miter"/>
<polygon points="1018.25,905.49 1023.95,917.48 1012.55,917.48" fill="none" stroke="#000" stroke-width="2.57" stroke-linejoin="miter"/>
<polygon points="1119.9,903.28 1125.6,915.28 1114.2,915.28" fill="none" stroke="#000" stroke-width="2.57" stroke-linejoin="miter"/>
<polygon points="1221.55,892.27 1227.25,904.27 1215.85,904.27" fill="none" stroke="#000" stroke-width="2.57" stroke-linejoin="miter"/>
<g font-size="24.9" letter-spacing="-2.4">
<path d="M1357.5 638.5H1388.5" stroke="#000" stroke-width="3.02"/>
<circle cx="1373" cy="638.5" r="6.29" fill="#000"/>
<text transform="translate(1406.1 646.16) scale(1 1.04)" letter-spacing="-0.6">NW</text>
<path d="M1357.5 678.18H1388.5" stroke="#000" stroke-width="3.02"/>
<rect x="1366.95" y="672.13" width="12.1" height="12.1" fill="#000"/>
<text transform="translate(1406.1 685.84) scale(1 1.04)">RQ</text>
<path d="M1357.5 717.86H1388.5" stroke="#000" stroke-width="3.02"/>
<polygon points="1373,711.81 1379.05,723.91 1366.95,723.91" fill="#000"/>
<text transform="translate(1406.1 725.52) scale(1 1.04)">GF</text>
<path d="M1357.5 757.54H1388.5" stroke="#000" stroke-width="3.02"/>
<polygon points="1366.95,751.49 1379.05,751.49 1373,763.59" fill="#000"/>
<text transform="translate(1406.1 765.2) scale(1 1.04)">NY</text>
<path d="M1357.5 797.22H1388.5" stroke="#000" stroke-width="3.02"/>
<polygon points="1373,790.81 1379.41,797.22 1373,803.63 1366.59,797.22" fill="#000"/>
<text transform="translate(1406.1 804.88) scale(1 1.04)">CN</text>
<path d="M1357.5 836.9H1388.5" stroke="#000" stroke-width="3.02"/>
<circle cx="1373" cy="836.9" r="5.9" fill="none" stroke="#000" stroke-width="2.92"/>
<text transform="translate(1406.1 844.56) scale(1 1.04)" letter-spacing="-0.6">WN</text>
<path d="M1357.5 876.58H1388.5" stroke="#000" stroke-width="3.02"/>
<rect x="1367.05" y="870.63" width="11.89" height="11.89" fill="none" stroke="#000" stroke-width="2.92"/>
<text transform="translate(1406.1 884.24) scale(1 1.04)" letter-spacing="-0.4">SK</text>
<path d="M1357.5 916.26H1388.5" stroke="#000" stroke-width="3.02"/>
<polygon points="1373,910.72 1378.7,922.71 1367.3,922.71" fill="none" stroke="#000" stroke-width="2.57" stroke-linejoin="miter"/>
<text transform="translate(1406.1 923.92) scale(1 1.04)">QN</text>
</g>
</g>
<g>
<text x="348.2" y="1119.4" text-anchor="middle" font-size="28.3" font-weight="700">&quot;Display&quot; population VH variants</text>
<text transform="translate(23.4 1303.5) rotate(-90)" text-anchor="middle" font-size="28.3" font-weight="700">Enrichment factor</text>
<g stroke="#000" stroke-width="2.6" fill="none">
<path d="M92.1 1156.7V1451.3H533.7"/>
<path d="M79.7 1451.3H92.1M79.7 1377.97H92.1M79.7 1304.65H92.1M79.7 1231.33H92.1M79.7 1158H92.1M159.2 1451.3V1463.7M260.75 1451.3V1463.7M362.3 1451.3V1463.7M463.85 1451.3V1463.7"/>
</g>
<g font-size="22.4" font-weight="700" text-anchor="end">
<text transform="translate(76.6 1458.7) scale(1 1.04)">0</text>
<text transform="translate(76.6 1385.38) scale(1 1.04)">50</text>
<text transform="translate(76.6 1312.05) scale(1 1.04)">100</text>
<text transform="translate(76.6 1238.73) scale(1 1.04)">150</text>
<text transform="translate(76.6 1165.4) scale(1 1.04)">200</text>
</g>
<g font-size="22.4" font-weight="700" text-anchor="end">
<text transform="translate(167.7 1482.3) rotate(-45)">Pre-selection</text>
<text transform="translate(269.25 1482.3) rotate(-45)">MACS-sorted</text>
<text transform="translate(370.8 1482.3) rotate(-45)">FACS 1</text>
<text transform="translate(472.35 1482.3) rotate(-45)">FACS 2</text>
</g>
<polyline points="159.2,1449.83 260.75,1447.63 362.3,1400.85 463.85,1281.19" fill="none" stroke="#000" stroke-width="3" stroke-linejoin="round"/>
<circle cx="159.2" cy="1449.83" r="6.24" fill="#000"/>
<circle cx="260.75" cy="1447.63" r="6.24" fill="#000"/>
<circle cx="362.3" cy="1400.85" r="6.24" fill="#000"/>
<circle cx="463.85" cy="1281.19" r="6.24" fill="#000"/>
<polyline points="159.2,1449.83 260.75,1447.63 362.3,1412.44 463.85,1382.08" fill="none" stroke="#000" stroke-width="3" stroke-linejoin="round"/>
<rect x="153.2" y="1443.83" width="12" height="12" fill="#000"/>
<rect x="254.75" y="1441.63" width="12" height="12" fill="#000"/>
<rect x="356.3" y="1406.44" width="12" height="12" fill="#000"/>
<rect x="457.85" y="1376.08" width="12" height="12" fill="#000"/>
<polyline points="159.2,1449.83 260.75,1448.37 362.3,1426.37 463.85,1392.2" fill="none" stroke="#000" stroke-width="3" stroke-linejoin="round"/>
<polygon points="159.2,1443.83 165.2,1455.83 153.2,1455.83" fill="#000"/>
<polygon points="260.75,1442.37 266.75,1454.37 254.75,1454.37" fill="#000"/>
<polygon points="362.3,1420.37 368.3,1432.37 356.3,1432.37" fill="#000"/>
<polygon points="463.85,1386.2 469.85,1398.2 457.85,1398.2" fill="#000"/>
<polyline points="159.2,1449.83 260.75,1448.37 362.3,1429.3 463.85,1403.64" fill="none" stroke="#000" stroke-width="3" stroke-linejoin="round"/>
<polygon points="153.2,1443.83 165.2,1443.83 159.2,1455.83" fill="#000"/>
<polygon points="254.75,1442.37 266.75,1442.37 260.75,1454.37" fill="#000"/>
<polygon points="356.3,1423.3 368.3,1423.3 362.3,1435.3" fill="#000"/>
<polygon points="457.85,1397.64 469.85,1397.64 463.85,1409.64" fill="#000"/>
<polyline points="159.2,1449.83 260.75,1448.37 362.3,1427.84 463.85,1409.65" fill="none" stroke="#000" stroke-width="3" stroke-linejoin="round"/>
<polygon points="159.2,1443.47 165.56,1449.83 159.2,1456.19 152.84,1449.83" fill="#000"/>
<polygon points="260.75,1442.01 267.11,1448.37 260.75,1454.73 254.39,1448.37" fill="#000"/>
<polygon points="362.3,1421.48 368.66,1427.84 362.3,1434.2 355.94,1427.84" fill="#000"/>
<polygon points="463.85,1403.29 470.21,1409.65 463.85,1416.01 457.49,1409.65" fill="#000"/>
<polyline points="159.2,1449.83 260.75,1448.37 362.3,1435.9 463.85,1416.54" fill="none" stroke="#000" stroke-width="3" stroke-linejoin="round"/>
<circle cx="159.2" cy="1449.83" r="5.85" fill="none" stroke="#000" stroke-width="2.9"/>
<circle cx="260.75" cy="1448.37" r="5.85" fill="none" stroke="#000" stroke-width="2.9"/>
<circle cx="362.3" cy="1435.9" r="5.85" fill="none" stroke="#000" stroke-width="2.9"/>
<circle cx="463.85" cy="1416.54" r="5.85" fill="none" stroke="#000" stroke-width="2.9"/>
<polyline points="159.2,1449.83 260.75,1448.37 362.3,1445.14 463.85,1420.06" fill="none" stroke="#000" stroke-width="3" stroke-linejoin="round"/>
<rect x="153.3" y="1443.93" width="11.8" height="11.8" fill="none" stroke="#000" stroke-width="2.9"/>
<rect x="254.85" y="1442.47" width="11.8" height="11.8" fill="none" stroke="#000" stroke-width="2.9"/>
<rect x="356.4" y="1439.24" width="11.8" height="11.8" fill="none" stroke="#000" stroke-width="2.9"/>
<rect x="457.95" y="1414.16" width="11.8" height="11.8" fill="none" stroke="#000" stroke-width="2.9"/>
<polyline points="159.2,1449.83 260.75,1448.37 362.3,1432.24 463.85,1419.48" fill="none" stroke="#000" stroke-width="3" stroke-linejoin="round"/>
<polygon points="159.2,1444.33 164.85,1456.23 153.55,1456.23" fill="none" stroke="#000" stroke-width="2.55" stroke-linejoin="miter"/>
<polygon points="260.75,1442.87 266.4,1454.77 255.1,1454.77" fill="none" stroke="#000" stroke-width="2.55" stroke-linejoin="miter"/>
<polygon points="362.3,1426.74 367.95,1438.64 356.65,1438.64" fill="none" stroke="#000" stroke-width="2.55" stroke-linejoin="miter"/>
<polygon points="463.85,1413.98 469.5,1425.88 458.2,1425.88" fill="none" stroke="#000" stroke-width="2.55" stroke-linejoin="miter"/>
<g font-size="24.7" letter-spacing="-1">
<path d="M598.6 1177.4H630" stroke="#000" stroke-width="3"/>
<circle cx="614.3" cy="1177.4" r="6.24" fill="#000"/>
<text transform="translate(647.1 1185) scale(1 1.04)">ED</text>
<path d="M598.6 1217H630" stroke="#000" stroke-width="3"/>
<rect x="608.3" y="1211" width="12" height="12" fill="#000"/>
<text transform="translate(647.1 1224.6) scale(1 1.04)">DE</text>
<path d="M598.6 1256.6H630" stroke="#000" stroke-width="3"/>
<polygon points="614.3,1250.6 620.3,1262.6 608.3,1262.6" fill="#000"/>
<text transform="translate(647.1 1264.2) scale(1 1.04)">DD</text>
<path d="M598.6 1296.2H630" stroke="#000" stroke-width="3"/>
<polygon points="608.3,1290.2 620.3,1290.2 614.3,1302.2" fill="#000"/>
<text transform="translate(647.1 1303.8) scale(1 1.04)">EE</text>
<path d="M598.6 1335.8H630" stroke="#000" stroke-width="3"/>
<polygon points="614.3,1329.44 620.66,1335.8 614.3,1342.16 607.94,1335.8" fill="#000"/>
<text transform="translate(647.1 1343.4) scale(1 1.04)" letter-spacing="-2">EQ</text>
<path d="M598.6 1375.4H630" stroke="#000" stroke-width="3"/>
<circle cx="614.3" cy="1375.4" r="5.85" fill="none" stroke="#000" stroke-width="2.9"/>
<text transform="translate(647.1 1383) scale(1 1.04)" letter-spacing="0">IE</text>
<path d="M598.6 1415H630" stroke="#000" stroke-width="3"/>
<rect x="608.4" y="1409.1" width="11.8" height="11.8" fill="none" stroke="#000" stroke-width="2.9"/>
<text transform="translate(647.1 1422.6) scale(1 1.04)" letter-spacing="-1.6">EN</text>
<path d="M598.6 1454.6H630" stroke="#000" stroke-width="3"/>
<polygon points="614.3,1449.1 619.95,1461 608.65,1461" fill="none" stroke="#000" stroke-width="2.55" stroke-linejoin="miter"/>
<text transform="translate(647.1 1462.2) scale(1 1.04)" letter-spacing="0">ID</text>
</g>
</g>
<g>
<text x="1106.2" y="1119.2" text-anchor="middle" font-size="28.4" font-weight="700">&quot;Display&quot; population VL variants</text>
<text transform="translate(780.8 1303.4) rotate(-90)" text-anchor="middle" font-size="28.3" font-weight="700">Enrichment factor</text>
<g stroke="#000" stroke-width="2.62" fill="none">
<path d="M849.8 1156.39V1451H1291"/>
<path d="M837.3 1451H849.8M837.3 1377.67H849.8M837.3 1304.35H849.8M837.3 1231.03H849.8M837.3 1157.7H849.8M916.8 1451V1463.5M1018.2 1451V1463.5M1119.6 1451V1463.5M1221 1451V1463.5"/>
</g>
<g font-size="22.58" font-weight="700" text-anchor="end">
<text transform="translate(834.18 1458.46) scale(1 1.04)">0</text>
<text transform="translate(834.18 1385.13) scale(1 1.04)">50</text>
<text transform="translate(834.18 1311.81) scale(1 1.04)">100</text>
<text transform="translate(834.18 1238.48) scale(1 1.04)">150</text>
<text transform="translate(834.18 1165.16) scale(1 1.04)">200</text>
</g>
<g font-size="22.58" font-weight="700" text-anchor="end">
<text transform="translate(925.37 1481) rotate(-45)">Pre-selection</text>
<text transform="translate(1026.77 1481) rotate(-45)">MACS-sorted</text>
<text transform="translate(1128.17 1481) rotate(-45)">FACS 1</text>
<text transform="translate(1229.57 1481) rotate(-45)">FACS 2</text>
</g>
<polyline points="916.8,1449.53 1018.2,1449.53 1119.6,1445.13 1221,1429" fill="none" stroke="#000" stroke-width="3.02" stroke-linejoin="round"/>
<circle cx="916.8" cy="1449.53" r="6.29" fill="#000"/>
<circle cx="1018.2" cy="1449.53" r="6.29" fill="#000"/>
<circle cx="1119.6" cy="1445.13" r="6.29" fill="#000"/>
<circle cx="1221" cy="1429" r="6.29" fill="#000"/>
<polyline points="916.8,1449.53 1018.2,1448.8 1119.6,1443.67 1221,1426.07" fill="none" stroke="#000" stroke-width="3.02" stroke-linejoin="round"/>
<rect x="910.75" y="1443.49" width="12.1" height="12.1" fill="#000"/>
<rect x="1012.15" y="1442.75" width="12.1" height="12.1" fill="#000"/>
<rect x="1113.55" y="1437.62" width="12.1" height="12.1" fill="#000"/>
<rect x="1214.95" y="1420.02" width="12.1" height="12.1" fill="#000"/>
<polyline points="916.8,1449.53 1018.2,1449.53 1119.6,1446.6 1221,1436.34" fill="none" stroke="#000" stroke-width="3.02" stroke-linejoin="round"/>
<polygon points="916.8,1443.49 922.85,1455.58 910.75,1455.58" fill="#000"/>
<polygon points="1018.2,1443.49 1024.25,1455.58 1012.15,1455.58" fill="#000"/>
<polygon points="1119.6,1440.55 1125.65,1452.65 1113.55,1452.65" fill="#000"/>
<polygon points="1221,1430.29 1227.05,1442.38 1214.95,1442.38" fill="#000"/>
<polyline points="916.8,1449.53 1018.2,1449.53 1119.6,1446.6 1221,1439.27" fill="none" stroke="#000" stroke-width="3.02" stroke-linejoin="round"/>
<polygon points="910.75,1443.49 922.85,1443.49 916.8,1455.58" fill="#000"/>
<polygon points="1012.15,1443.49 1024.25,1443.49 1018.2,1455.58" fill="#000"/>
<polygon points="1113.55,1440.55 1125.65,1440.55 1119.6,1452.65" fill="#000"/>
<polygon points="1214.95,1433.22 1227.05,1433.22 1221,1445.32" fill="#000"/>
<polyline points="916.8,1449.53 1018.2,1449.53 1119.6,1447.33 1221,1440.73" fill="none" stroke="#000" stroke-width="3.02" stroke-linejoin="round"/>
<polygon points="916.8,1443.12 923.21,1449.53 916.8,1455.94 910.39,1449.53" fill="#000"/>
<polygon points="1018.2,1443.12 1024.61,1449.53 1018.2,1455.94 1011.79,1449.53" fill="#000"/>
<polygon points="1119.6,1440.92 1126.01,1447.33 1119.6,1453.74 1113.19,1447.33" fill="#000"/>
<polygon points="1221,1434.32 1227.41,1440.73 1221,1447.15 1214.59,1440.73" fill="#000"/>
<polyline points="916.8,1449.53 1018.2,1449.53 1119.6,1448.07 1221,1442.2" fill="none" stroke="#000" stroke-width="3.02" stroke-linejoin="round"/>
<circle cx="916.8" cy="1449.53" r="5.9" fill="none" stroke="#000" stroke-width="2.92"/>
<circle cx="1018.2" cy="1449.53" r="5.9" fill="none" stroke="#000" stroke-width="2.92"/>
<circle cx="1119.6" cy="1448.07" r="5.9" fill="none" stroke="#000" stroke-width="2.92"/>
<circle cx="1221" cy="1442.2" r="5.9" fill="none" stroke="#000" stroke-width="2.92"/>
<polyline points="916.8,1449.53 1018.2,1449.53 1119.6,1448.07 1221,1442.2" fill="none" stroke="#000" stroke-width="3.02" stroke-linejoin="round"/>
<rect x="910.85" y="1443.59" width="11.89" height="11.89" fill="none" stroke="#000" stroke-width="2.92"/>
<rect x="1012.25" y="1443.59" width="11.89" height="11.89" fill="none" stroke="#000" stroke-width="2.92"/>
<rect x="1113.65" y="1442.12" width="11.89" height="11.89" fill="none" stroke="#000" stroke-width="2.92"/>
<rect x="1215.05" y="1436.25" width="11.89" height="11.89" fill="none" stroke="#000" stroke-width="2.92"/>
<polyline points="916.8,1449.53 1018.2,1449.53 1119.6,1448.07 1221,1443.67" fill="none" stroke="#000" stroke-width="3.02" stroke-linejoin="round"/>
<polygon points="916.8,1443.99 922.5,1455.98 911.1,1455.98" fill="none" stroke="#000" stroke-width="2.57" stroke-linejoin="miter"/>
<polygon points="1018.2,1443.99 1023.9,1455.98 1012.5,1455.98" fill="none" stroke="#000" stroke-width="2.57" stroke-linejoin="miter"/>
<polygon points="1119.6,1442.52 1125.3,1454.52 1113.9,1454.52" fill="none" stroke="#000" stroke-width="2.57" stroke-linejoin="miter"/>
<polygon points="1221,1438.12 1226.7,1450.12 1215.3,1450.12" fill="none" stroke="#000" stroke-width="2.57" stroke-linejoin="miter"/>
<g font-size="24.9" letter-spacing="-2.4">
<path d="M1356.5 1177.6H1387.5" stroke="#000" stroke-width="3.02"/>
<circle cx="1372" cy="1177.6" r="6.29" fill="#000"/>
<text transform="translate(1405 1185.26) scale(1 1.04)">HS</text>
<path d="M1356.5 1217.2H1387.5" stroke="#000" stroke-width="3.02"/>
<rect x="1365.95" y="1211.15" width="12.1" height="12.1" fill="#000"/>
<text transform="translate(1405 1224.86) scale(1 1.04)">DQ</text>
<path d="M1356.5 1256.8H1387.5" stroke="#000" stroke-width="3.02"/>
<polygon points="1372,1250.75 1378.05,1262.85 1365.95,1262.85" fill="#000"/>
<text transform="translate(1405 1264.46) scale(1 1.04)" letter-spacing="-3.4">GM</text>
<path d="M1356.5 1296.4H1387.5" stroke="#000" stroke-width="3.02"/>
<polygon points="1365.95,1290.35 1378.05,1290.35 1372,1302.45" fill="#000"/>
<text transform="translate(1405 1304.06) scale(1 1.04)" letter-spacing="-4.4">TQ</text>
<path d="M1356.5 1336H1387.5" stroke="#000" stroke-width="3.02"/>
<polygon points="1372,1329.59 1378.41,1336 1372,1342.41 1365.59,1336" fill="#000"/>
<text transform="translate(1405 1343.66) scale(1 1.04)">ME</text>
<path d="M1356.5 1375.6H1387.5" stroke="#000" stroke-width="3.02"/>
<circle cx="1372" cy="1375.6" r="5.9" fill="none" stroke="#000" stroke-width="2.92"/>
<text transform="translate(1405 1383.26) scale(1 1.04)" letter-spacing="-4">AT</text>
<path d="M1356.5 1415.2H1387.5" stroke="#000" stroke-width="3.02"/>
<rect x="1366.05" y="1409.25" width="11.89" height="11.89" fill="none" stroke="#000" stroke-width="2.92"/>
<text transform="translate(1405 1422.86) scale(1 1.04)">EM</text>
<path d="M1356.5 1454.8H1387.5" stroke="#000" stroke-width="3.02"/>
<polygon points="1372,1449.26 1377.7,1461.25 1366.3,1461.25" fill="none" stroke="#000" stroke-width="2.57" stroke-linejoin="miter"/>
<text transform="translate(1405 1462.46) scale(1 1.04)">DT</text>
</g>
</g>
</svg>
</body>
</html>
